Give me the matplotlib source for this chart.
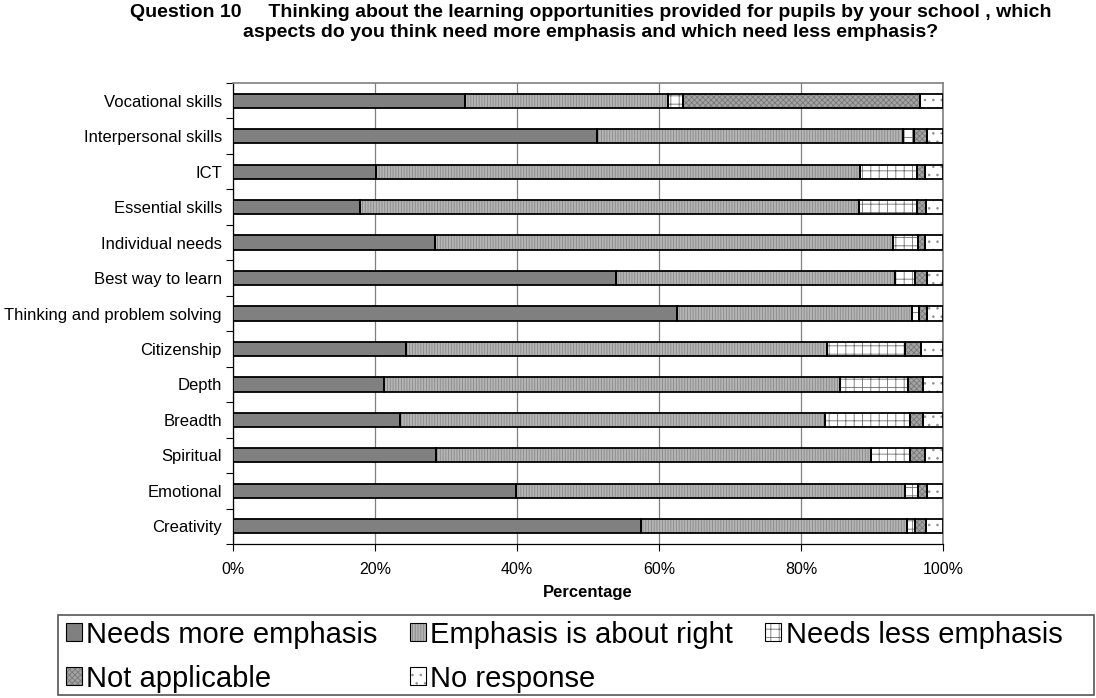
import numpy as np
import matplotlib.pyplot as plt
from matplotlib.patches import Patch, Rectangle

plt.rcParams['font.family'] = ['Liberation Sans', 'DejaVu Sans']
plt.rcParams['hatch.linewidth'] = 0.6

# top-to-bottom order as shown
categories = ["Vocational skills", "Interpersonal skills", "ICT", "Essential skills",
              "Individual needs", "Best way to learn", "Thinking and problem solving",
              "Citizenship", "Depth", "Breadth", "Spiritual", "Emotional", "Creativity"]

needs_more = [32.7, 51.2, 20.1, 17.9, 28.5, 54.0, 62.5, 24.4, 21.2, 23.5, 28.6, 39.9, 57.4]
about_right = [28.5, 43.1, 68.2, 70.2, 64.5, 39.2, 33.2, 59.2, 64.3, 59.9, 61.2, 54.8, 37.6]
needs_less = [2.2, 1.6, 8.1, 8.3, 3.5, 2.8, 0.9, 11.0, 9.6, 12.0, 5.5, 1.8, 1.1]
not_applicable = [33.4, 1.8, 1.1, 1.2, 1.0, 1.7, 1.1, 2.3, 2.1, 1.8, 2.2, 1.2, 1.5]
no_response = [3.2, 2.3, 2.5, 2.4, 2.5, 2.3, 2.3, 3.1, 2.8, 2.8, 2.5, 2.3, 2.4]

series_names = ["Needs more emphasis", "Emphasis is about right", "Needs less emphasis",
                "Not applicable", "No response"]
series = [needs_more, about_right, needs_less, not_applicable, no_response]

# (facecolor, hatch, hatch colour)
styles = [("#808080", None, "#808080"),
          ("#b4b4b4", "||||||", "#8a8a8a"),
          ("#ffffff", "++", "#707070"),
          ("#a4a4a4", "xxxxxx", "#787878"),
          ("#ffffff", "..", "#909090")]

fig = plt.figure(figsize=(10.96, 6.98), dpi=100)
ax = fig.add_axes([0.2126, 0.2206, 0.6478, 0.6605])

y = np.arange(len(categories))[::-1]
left = np.zeros(len(categories))
handles = []
for vals, name, (fc, hatch, hc) in zip(series, series_names, styles):
    vals = np.array(vals)
    ax.barh(y, vals, left=left, height=0.4, color=fc, hatch=hatch,
            edgecolor=hc, linewidth=0, zorder=3)
    ax.barh(y, vals, left=left, height=0.4, fill=False,
            edgecolor="black", linewidth=1.3, zorder=4)
    left += vals
    handles.append((Patch(facecolor=fc, hatch=hatch, edgecolor=hc, linewidth=0),
                    Patch(fill=False, edgecolor="black", linewidth=0.8)))

ax.set_xlim(0, 100)
ax.set_ylim(-0.5, len(categories) - 0.5)
ax.set_xticks(np.arange(0, 101, 20))
ax.set_xticklabels([f"{v}%" for v in range(0, 101, 20)], fontsize=11.5)
ax.set_yticks(y)
ax.set_yticklabels(categories, fontsize=12)
ax.set_yticks(np.arange(-0.5, len(categories), 1), minor=True)
ax.tick_params(axis="y", which="major", length=0, pad=8)
ax.tick_params(axis="y", which="minor", length=5, width=0.8, direction="out")
ax.tick_params(axis="x", length=5, width=0.8, direction="out", pad=8)
ax.grid(axis="x", color="#808080", linewidth=0.9, zorder=0)
ax.set_axisbelow(True)
for s in ["top", "right"]:
    ax.spines[s].set_color("#808080")
    ax.spines[s].set_linewidth(1.2)
for s in ["left", "bottom"]:
    ax.spines[s].set_color("black")
    ax.spines[s].set_linewidth(0.9)

ax.set_xlabel("Percentage", fontsize=12, fontweight="bold", labelpad=6)

fig.text(0.539, 0.994,
         "Question 10     Thinking about the learning opportunities provided for pupils by your school , which\n"
         "aspects do you think need more emphasis and which need less emphasis?",
         ha="center", va="top", fontsize=14, fontweight="bold", linespacing=1.2)

# legend fills column-wise; reorder so rows read like the original
order = [0, 3, 1, 4, 2]
leg = fig.legend([handles[i] for i in order], [series_names[i] for i in order],
                 ncol=3, loc="upper left", bbox_to_anchor=(0.0602, 0.111),
                 fontsize=21, frameon=False, handlelength=0.55,
                 handleheight=0.55, handletextpad=0.15, columnspacing=1.1,
                 labelspacing=0.55, borderpad=0, borderaxespad=0)

fig.patches.append(Rectangle((0.0529, 0.004), 0.945, 0.1149,
                             transform=fig.transFigure, fill=False,
                             edgecolor="#555555", linewidth=1.2))

fig.savefig("out.png", dpi=100)
